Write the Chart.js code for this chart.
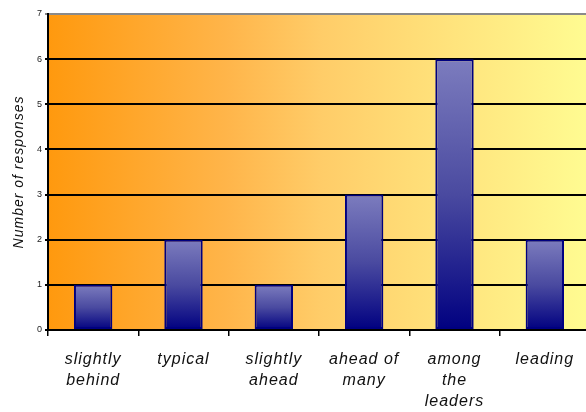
<!DOCTYPE html>
<html>
<head>
<meta charset="utf-8">
<script src="https://cdn.jsdelivr.net/npm/chart.js@4/dist/chart.umd.min.js"></script>
<style>
  html, body { margin: 0; padding: 0; background: #ffffff; overflow: hidden; }
  #wrap { width: 586px; height: 412px; overflow: hidden; }
  #c { display: block; }
</style>
</head>
<body>
<div id="wrap"><canvas id="c" width="590" height="412"></canvas></div>
<script>
// Survey answers: how respondents rate their position
const categories = [
  ['slightly', 'behind'],
  'typical',
  ['slightly', 'ahead'],
  ['ahead of', 'many'],
  ['among', 'the', 'leaders'],
  'leading'
];
const responses = [1, 2, 1, 3, 6, 2];
const yTicks = [0, 1, 2, 3, 4, 5, 6, 7];
const yTitle = 'Number of responses';

// Orange-to-yellow wash behind the plotting area; also widens text tracking
const areaBackground = {
  id: 'areaBackground',
  beforeDraw(chart) {
    const { ctx, chartArea: a } = chart;
    const g = ctx.createLinearGradient(a.left, 0, a.right, 0);
    g.addColorStop(0, '#FF990E');
    g.addColorStop(0.33, '#FFB54A');
    g.addColorStop(0.5, '#FFCC68');
    g.addColorStop(1, '#FFFC92');
    ctx.save();
    ctx.fillStyle = g;
    ctx.fillRect(a.left, a.top, a.right - a.left, a.bottom - a.top);
    ctx.restore();
    ctx.letterSpacing = '1px';
  }
};

// Each bar shades from lavender at its top to navy at its base
function barGradient(context) {
  const chart = context.chart;
  const yScale = chart.scales.y;
  if (!yScale || context.raw == null) return '#4040a0';
  const top = yScale.getPixelForValue(context.raw);
  const base = yScale.getPixelForValue(0);
  if (!isFinite(top) || !isFinite(base) || top === base) return '#4040a0';
  const g = chart.ctx.createLinearGradient(0, top, 0, base);
  g.addColorStop(0, '#7C7CBE');
  g.addColorStop(0.5, '#4A4AA0');
  g.addColorStop(1, '#000080');
  return g;
}

new Chart(document.getElementById('c'), {
  type: 'bar',
  data: {
    labels: categories,
    datasets: [{
      data: responses,
      backgroundColor: barGradient,
      borderColor: '#000080',
      borderWidth: 2,
      borderSkipped: false,
      categoryPercentage: 1,
      barPercentage: 0.425
    }]
  },
  plugins: [areaBackground],
  options: {
    responsive: false,
    animation: false,
    devicePixelRatio: 1,
    layout: { padding: { top: 14, right: 0, left: 0, bottom: 0 } },
    plugins: {
      legend: { display: false },
      tooltip: { enabled: false }
    },
    scales: {
      x: {
        offset: true,
        grid: {
          offset: true,
          drawOnChartArea: false,
          drawTicks: true,
          tickLength: 6,
          color: '#000000',
          lineWidth: 1.5
        },
        border: { display: true, color: '#000000', width: 2 },
        ticks: {
          color: '#111111',
          padding: 13,
          maxRotation: 0,
          autoSkip: false,
          font: { family: 'Liberation Sans, Arial, sans-serif', size: 16, style: 'italic', lineHeight: 1.32 }
        },
        afterFit(scale) { scale.height = 82; }
      },
      y: {
        min: 0,
        max: 7,
        afterBuildTicks(scale) { scale.ticks = yTicks.map(v => ({ value: v })); },
        grid: {
          color: ctx => (ctx.tick && ctx.tick.value === 7 ? '#8a8a8a' : '#000000'),
          lineWidth: 2,
          drawTicks: true,
          tickLength: 3
        },
        border: { display: true, color: '#000000', width: 2 },
        ticks: {
          color: '#222222',
          padding: 2,
          font: { family: 'Liberation Sans, Arial, sans-serif', size: 9 }
        },
        title: {
          display: true,
          text: yTitle,
          color: '#111111',
          padding: { top: 11, bottom: 0 },
          font: { family: 'Liberation Sans, Arial, sans-serif', size: 14, style: 'italic' }
        },
        afterFit(scale) { scale.width = 48; }
      }
    }
  }
});
</script>
</body>
</html>
